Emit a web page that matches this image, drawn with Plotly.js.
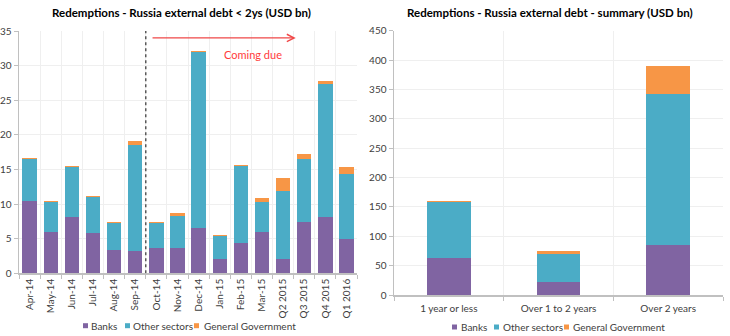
<!DOCTYPE html>
<html><head><meta charset="utf-8">
<script src="https://cdn.plot.ly/plotly-3.0.1.min.js"></script>
<style>html,body{margin:0;padding:0;background:#fff}</style>
</head><body>
<div id="chart" style="width:730px;height:336px"></div>
<script>
// Left chart: redemptions < 2 years
const months = ["Apr-14","May-14","Jun-14","Jul-14","Aug-14","Sep-14","Oct-14","Nov-14","Dec-14","Jan-15","Feb-15","Mar-15","Q2 2015","Q3 2015","Q4 2015","Q1 2016"];
const banksShort = [10.4, 6.0, 8.1, 5.85, 3.4, 3.25, 3.6, 3.7, 6.6, 2.1, 4.35, 6.0, 2.1, 7.35, 8.15, 5.0];
const otherShort = [6.15, 4.25, 7.2, 5.1, 3.9, 15.25, 3.7, 4.55, 25.3, 3.3, 11.1, 4.25, 9.8, 9.2, 19.25, 9.3];
const govShort   = [0.15, 0.15, 0.15, 0.15, 0.15, 0.6, 0.15, 0.45, 0.2, 0.15, 0.15, 0.65, 1.8, 0.7, 0.35, 1.05];

// Right chart: summary
const horizons = ["1 year or less","Over 1 to 2 years","Over 2 years"];
const banksSum = [62.5, 22.7, 85.8];
const otherSum = [95.5, 47.2, 256.8];
const govSum   = [1.7, 4.5, 47.7];

const seriesNames = ["Banks","Other sectors","General Government"];
const colors = ["#8064A2","#4BACC6","#F79646"];

const FONT = "Lato, 'Open Sans', sans-serif";
const traces = [];
[banksShort, otherShort, govShort].forEach((v,i)=>{
  traces.push({type:"bar", x:months, y:v, name:seriesNames[i], width:0.68, showlegend:false,
    marker:{color:colors[i]}, xaxis:"x", yaxis:"y", hoverinfo:"skip"});
});
[banksSum, otherSum, govSum].forEach((v,i)=>{
  traces.push({type:"bar", x:horizons, y:v, name:seriesNames[i], width:0.4, showlegend:false,
    marker:{color:colors[i]}, xaxis:"x2", yaxis:"y2", hoverinfo:"skip"});
});

const axisCommon = {
  showgrid:true, gridcolor:"#efefef", gridwidth:1,
  showline:true, linecolor:"#c0c0c0", linewidth:1.5,
  ticks:"outside", ticklen:4, tickcolor:"#c0c0c0",
  tickfont:{family:FONT, size:10, color:"#404040"}, zeroline:false, fixedrange:true
};

// Legend layout (pixel positions of each legend's squares and labels)
const W = 730, H = 336;
const legendSpecs = [
  {sq:[83, 125, 194], tx:[90, 132, 202.5], y:325.7},
  {sq:[452, 494, 564], tx:[459.5, 501.5, 571.5], y:327}
];
const legendShapes = [], legendAnns = [];
legendSpecs.forEach(spec=>{
  seriesNames.forEach((nm,i)=>{
    legendShapes.push({type:"rect", xref:"paper", yref:"paper",
      x0:spec.sq[i]/W, x1:(spec.sq[i]+5)/W, y0:(H-spec.y-2.5)/H, y1:(H-spec.y+2.5)/H,
      fillcolor:colors[i], line:{width:0}});
    legendAnns.push({xref:"paper", yref:"paper", x:spec.tx[i]/W, y:(H-spec.y)/H, xanchor:"left", yanchor:"middle",
      showarrow:false, borderpad:0, text:nm, font:{family:FONT, size:10, color:"#404040"}});
  });
});

const layout = {
  width:W, height:H,
  margin:{l:0,r:0,t:0,b:0},
  paper_bgcolor:"#fff", plot_bgcolor:"#fff",
  barmode:"stack",
  showlegend:false,
  xaxis:Object.assign({}, axisCommon, {domain:[19/W, 357/W], type:"category", tickson:"boundaries", tickangle:-90, anchor:"y"}),
  yaxis:Object.assign({}, axisCommon, {domain:[(H-273.3)/H, (H-31)/H], range:[0,35], dtick:5, anchor:"x"}),
  xaxis2:Object.assign({}, axisCommon, {domain:[394/W, 723/W], type:"category", tickson:"boundaries", tickangle:0, anchor:"y2", ticklabelstandoff:3}),
  yaxis2:Object.assign({}, axisCommon, {domain:[(H-295)/H, (H-30.7)/H], range:[0,450], dtick:50, anchor:"x2"}),
  shapes:[
    {type:"line", xref:"x", yref:"y", x0:5.5, x1:5.5, y0:0, y1:35, line:{color:"#595959", width:1.5, dash:"dot"}}
  ].concat(legendShapes),
  annotations:[
    {xref:"paper", yref:"paper", x:181/W, y:(H-13)/H, xanchor:"center", yanchor:"middle", showarrow:false,
     text:"<b>Redemptions - Russia external debt < 2ys (USD bn)</b>", font:{family:FONT, size:11.5, color:"#000"}},
    {xref:"paper", yref:"paper", x:550/W, y:(H-13)/H, xanchor:"center", yanchor:"middle", showarrow:false,
     text:"<b>Redemptions - Russia external debt - summary (USD bn)</b>", font:{family:FONT, size:11.5, color:"#000"}},
    {xref:"x", yref:"y", x:12.6, y:34, axref:"x", ayref:"y", ax:5.75, ay:34, text:"", showarrow:true,
     arrowhead:5, arrowsize:1.2, arrowwidth:1.2, arrowcolor:"#F04848"},
    {xref:"x", yref:"y", x:10.57, y:31.6, text:"Coming due", showarrow:false,
     font:{family:FONT, size:11, color:"#FF3B3B"}}
  ].concat(legendAnns)
};

Plotly.newPlot("chart", traces, layout, {displayModeBar:false, staticPlot:true});
</script>
</body></html>
